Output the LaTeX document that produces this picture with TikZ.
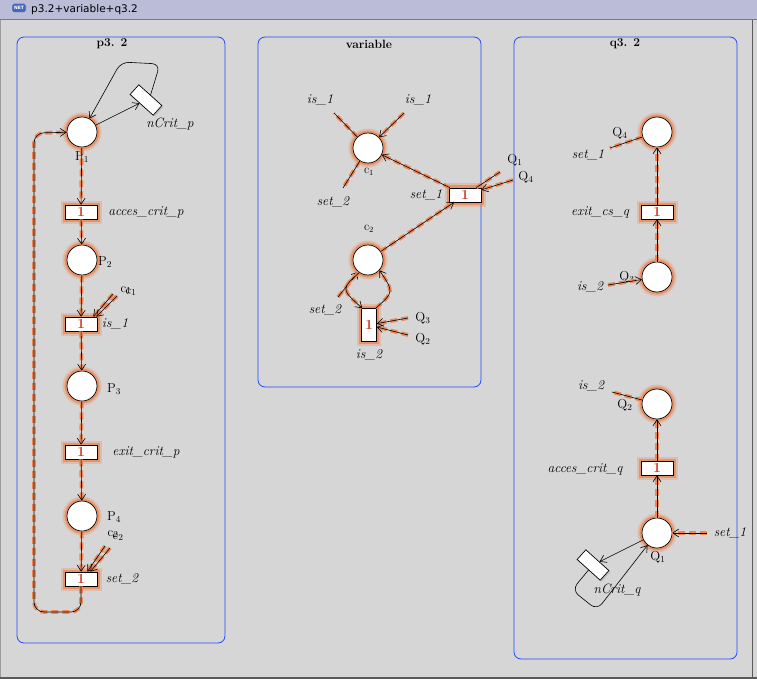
\documentclass[tikz,border=0pt]{standalone}
\usepackage{fontspec}
\usetikzlibrary{arrows.meta,shadows}

\newfontfamily\barfont{DejaVu Sans}
\definecolor{winbg}{RGB}{214,214,214}
\definecolor{barbg}{RGB}{186,188,216}
\definecolor{winedge}{RGB}{90,90,90}
\definecolor{panelblue}{RGB}{30,75,255}
\definecolor{glowc}{RGB}{236,136,88}
\definecolor{tokred}{RGB}{210,50,35}
\definecolor{iconblue}{RGB}{70,105,185}

\begin{document}
\begin{tikzpicture}[
        % un pixel dello schermo = 1pt, asse y verso il basso
        x=1pt, y=-1pt,
        >={Straight Barb[length=6pt,width=8pt]},
        % Stili di posti, transizioni e archi
        place/.style={circle, draw, fill=white, line width=0.7pt, minimum size=30pt, inner sep=0pt},
        glow/.style={preaction={draw=glowc, line width=9pt, opacity=0.3},
                     preaction={draw=glowc, line width=5pt, opacity=0.8}},
        trans/.style={rectangle, draw, fill=white, line width=0.7pt, minimum width=32pt,
                      minimum height=14pt, inner sep=0pt, text=tokred,
                      font=\fontsize{14}{14}\selectfont\bfseries},
        vtrans/.style={trans, minimum width=15pt, minimum height=33pt},
        idle/.style={rectangle, draw, fill=white, line width=0.7pt, minimum width=31pt,
                     minimum height=13pt, rotate=-42,
                     drop shadow={opacity=0.25, shadow xshift=1.5pt, shadow yshift=-1.5pt}},
        arcline/.style={line width=0.6pt},
        hl/.style={arcline, preaction={draw=glowc, -, line width=3.8pt, dash pattern=on 7pt off 4pt}},
        lbl/.style={inner sep=0pt, font=\fontsize{13.5}{15}\selectfont\itshape\addfontfeatures{LetterSpace=21}},
        pname/.style={inner sep=0pt, font=\fontsize{13}{15}\selectfont},
        cname/.style={inner sep=0pt, font=\fontsize{12}{14}\selectfont},
        panel/.style={draw=panelblue, line width=0.8pt, rounded corners=7pt},
        ptitle/.style={inner sep=0pt, font=\fontsize{12}{14}\selectfont\bfseries}
    ]
    \useasboundingbox (0,0) rectangle (757,679);

    % ==============================
    % 0. FINESTRA
    % ==============================
    \fill[winbg] (0,0) rectangle (757,679);
    \fill[barbg] (0,0) rectangle (757,19);
    \draw[winedge!80, line width=1.2pt] (0,19.5) -- (757,19.5);
    \draw[winedge!60, line width=1pt] (0.5,20) -- (0.5,679);
    \draw[winedge, line width=1.5pt] (752.5,20) -- (752.5,679);
    \draw[winedge, line width=2pt] (0,678) -- (757,678);
    \node[fill=iconblue, draw=white!70!iconblue, rounded corners=1.5pt, minimum width=14pt,
          minimum height=9pt, inner sep=0pt, text=white,
          font=\barfont\bfseries\fontsize{4.5}{5}\selectfont] (icon) at (19,8) {NET};
    \node[anchor=west, inner sep=0pt, font=\barfont\fontsize{10.5}{12}\selectfont] (wtitle) at (31,10) {p3.2+variable+q3.2};

    % ==============================
    % 1. RETE p3.2
    % ==============================
    \begin{scope}
        \draw[panel] (17,37) rectangle (225,643);
        \node[ptitle] (tp) at (112,44) {p3. 2};

        % Posti e transizioni
        \node[place, glow] (P1) at (82,132) {};
        \node[trans, glow] (accp) at (81,212) {1};
        \node[place, glow] (P2) at (82,260) {};
        \node[trans, glow] (is1) at (81,324) {1};
        \node[place, glow] (P3) at (82,386) {};
        \node[trans, glow] (exitp) at (81,452) {1};
        \node[place, glow] (P4) at (82,516) {};
        \node[trans, glow] (set2) at (81,579) {1};
        \node[idle] (ncp) at (146,100) {};

        % Etichette
        \node[pname] (lP1) at (82,157) {P$_1$};
        \node[pname] (lP2) at (105,262) {P$_2$};
        \node[pname] (lP3) at (114,389) {P$_3$};
        \node[pname] (lP4) at (114,517) {P$_4$};
        \node[lbl] (laccp) at (146,212) {acces\_crit\_p};
        \node[lbl] (lis1) at (115,324) {is\_1};
        \node[lbl] (lexitp) at (146,452) {exit\_crit\_p};
        \node[lbl] (lset2) at (122,579) {set\_2};
        \node[lbl] (lncp) at (170,124) {nCrit\_p};
        \node[pname] (lca) at (126,290) {c$_1$};
        \node[pname] (lcb) at (131,292) {c$_1$};
        \node[pname] (lcc) at (113,534) {c$_2$};
        \node[pname] (lcd) at (118,537) {c$_2$};

        % Archi
        \draw[hl,->] (P1) -- (accp);
        \draw[hl,->] (accp) -- (P2);
        \draw[hl,->] (P2) -- (is1);
        \draw[hl,->] (is1) -- (P3);
        \draw[hl,->] (P3) -- (exitp);
        \draw[hl,->] (exitp) -- (P4);
        \draw[hl,->] (P4) -- (set2);
        \draw[hl,->,rounded corners=10pt] (set2) -- (81,612) -- (34,612) -- (34,133) -- (P1);
        \coordinate (pc1a) at (113,294);
        \coordinate (pc1b) at (117,296);
        \draw[hl,->] (pc1a) -- ([xshift=-4pt]is1.north east);
        \draw[hl,->] (pc1b) -- ([xshift=-1pt]is1.north east);
        \coordinate (pc2a) at (105,546);
        \coordinate (pc2b) at (110,548);
        \draw[hl,->] (pc2a) -- ([xshift=-10pt]set2.north east);
        \draw[hl,->] (pc2b) -- ([xshift=-7pt]set2.north east);
        \draw[arcline,->] (P1) -- (ncp);
        \draw[arcline,->,rounded corners=8pt] (ncp.north) -- (160,64) -- (121,62) -- (P1);
    \end{scope}

    % ==============================
    % 2. RETE variable
    % ==============================
    \begin{scope}
        \draw[panel] (258,37) rectangle (481,387);
        \node[ptitle] (tv) at (369,44) {variable};

        % Posti e transizioni
        \node[place, glow] (c1) at (368,148) {};
        \node[place, glow] (c2) at (368,260) {};
        \node[trans, glow] (set1) at (465,195) {1};
        \node[vtrans, glow] (is2) at (369,325) {1};

        % Etichette
        \node[cname] (lc1) at (369,172) {c$_1$};
        \node[cname] (lc2) at (369,229) {c$_2$};
        \node[lbl] (lset1) at (426,195) {set\_1};
        \node[lbl] (lis2) at (369,355) {is\_2};
        \node[lbl] (lvis1a) at (320,100) {is\_1};
        \node[lbl] (lvis1b) at (418,100) {is\_1};
        \node[lbl] (lvset2a) at (333,202) {set\_2};
        \node[lbl] (lvset2b) at (325,310) {set\_2};
        \node[pname] (lvq1) at (515,160) {Q$_1$};
        \node[pname] (lvq4) at (526,177) {Q$_4$};
        \node[pname] (lvq3) at (423,318) {Q$_3$};
        \node[pname] (lvq2) at (423,339) {Q$_2$};

        % Estremi liberi
        \coordinate (vis1a) at (334,113);
        \coordinate (vis1b) at (404,113);
        \coordinate (vset2a) at (343,188);
        \coordinate (vset2b) at (338,297);
        \coordinate (vq1) at (500,172);
        \coordinate (vq4) at (513,180);
        \coordinate (vq3) at (408,318);
        \coordinate (vq2) at (408,335);

        % Archi
        \draw[hl] (c1) -- (vis1a);
        \draw[hl,->] (vis1b) -- (c1);
        \draw[hl] (c1) -- (vset2a);
        \draw[hl,->] (set1) -- (c1);
        \draw[hl,->] (c2) -- (set1);
        \draw[hl] (set1) -- (vq1);
        \draw[hl,->] (vq4) -- (set1);
        \draw[hl,->] (vset2b) -- (c2);
        \draw[hl,->] (c2.235) .. controls (341,289) .. ([xshift=1pt]is2.north west);
        \draw[hl,->] ([xshift=-1pt]is2.north east) .. controls (394,292) .. (c2.318);
        \draw[hl,->] (vq3) -- (is2);
        \draw[hl,->] (vq2) -- (is2);
    \end{scope}

    % ==============================
    % 3. RETE q3.2
    % ==============================
    \begin{scope}
        \draw[panel] (514,37) rectangle (737,659);
        \node[ptitle] (tq) at (625,44) {q3. 2};

        % Posti e transizioni
        \node[place, glow] (Q4) at (657,132) {};
        \node[trans, glow] (exitq) at (657,212) {1};
        \node[place, glow] (Q3) at (657,277) {};
        \node[place, glow] (Q2) at (657,404) {};
        \node[trans, glow] (accq) at (657,468) {1};
        \node[place, glow] (Q1) at (657,533) {};
        \node[idle] (ncq) at (593,565) {};

        % Etichette
        \node[pname] (lQ4) at (620,133) {Q$_4$};
        \node[pname] (lQ3) at (627,277) {Q$_3$};
        \node[pname] (lQ2) at (625,405) {Q$_2$};
        \node[pname] (lQ1) at (658,557) {Q$_1$};
        \node[lbl] (lqset1a) at (588,155) {set\_1};
        \node[lbl] (lexitq) at (600,212) {exit\_cs\_q};
        \node[lbl] (lqis2a) at (590,287) {is\_2};
        \node[lbl] (lqis2b) at (591,386) {is\_2};
        \node[lbl] (laccq) at (585,469) {acces\_crit\_q};
        \node[lbl] (lqset1b) at (730,533) {set\_1};
        \node[lbl] (lncq) at (617,590) {nCrit\_q};

        % Estremi liberi
        \coordinate (qset1a) at (610,148);
        \coordinate (qis2a) at (608,285);
        \coordinate (qis2b) at (612,392);
        \coordinate (qset1b) at (707,533);

        % Archi
        \draw[hl] (Q4) -- (qset1a);
        \draw[hl,->] (Q3) -- (exitq);
        \draw[hl,->] (exitq) -- (Q4);
        \draw[hl,->] (qis2a) -- (Q3);
        \draw[hl] (Q2) -- (qis2b);
        \draw[hl,->] (Q1) -- (accq);
        \draw[hl,->] (accq) -- (Q2);
        \draw[hl,->] (qset1b) -- (Q1);
        \draw[arcline,->] (Q1) -- (ncq);
        \draw[arcline,->,rounded corners=8pt] (ncq.south) -- (572,590) -- (597,610) -- (Q1);
    \end{scope}

\end{tikzpicture}
\end{document}
